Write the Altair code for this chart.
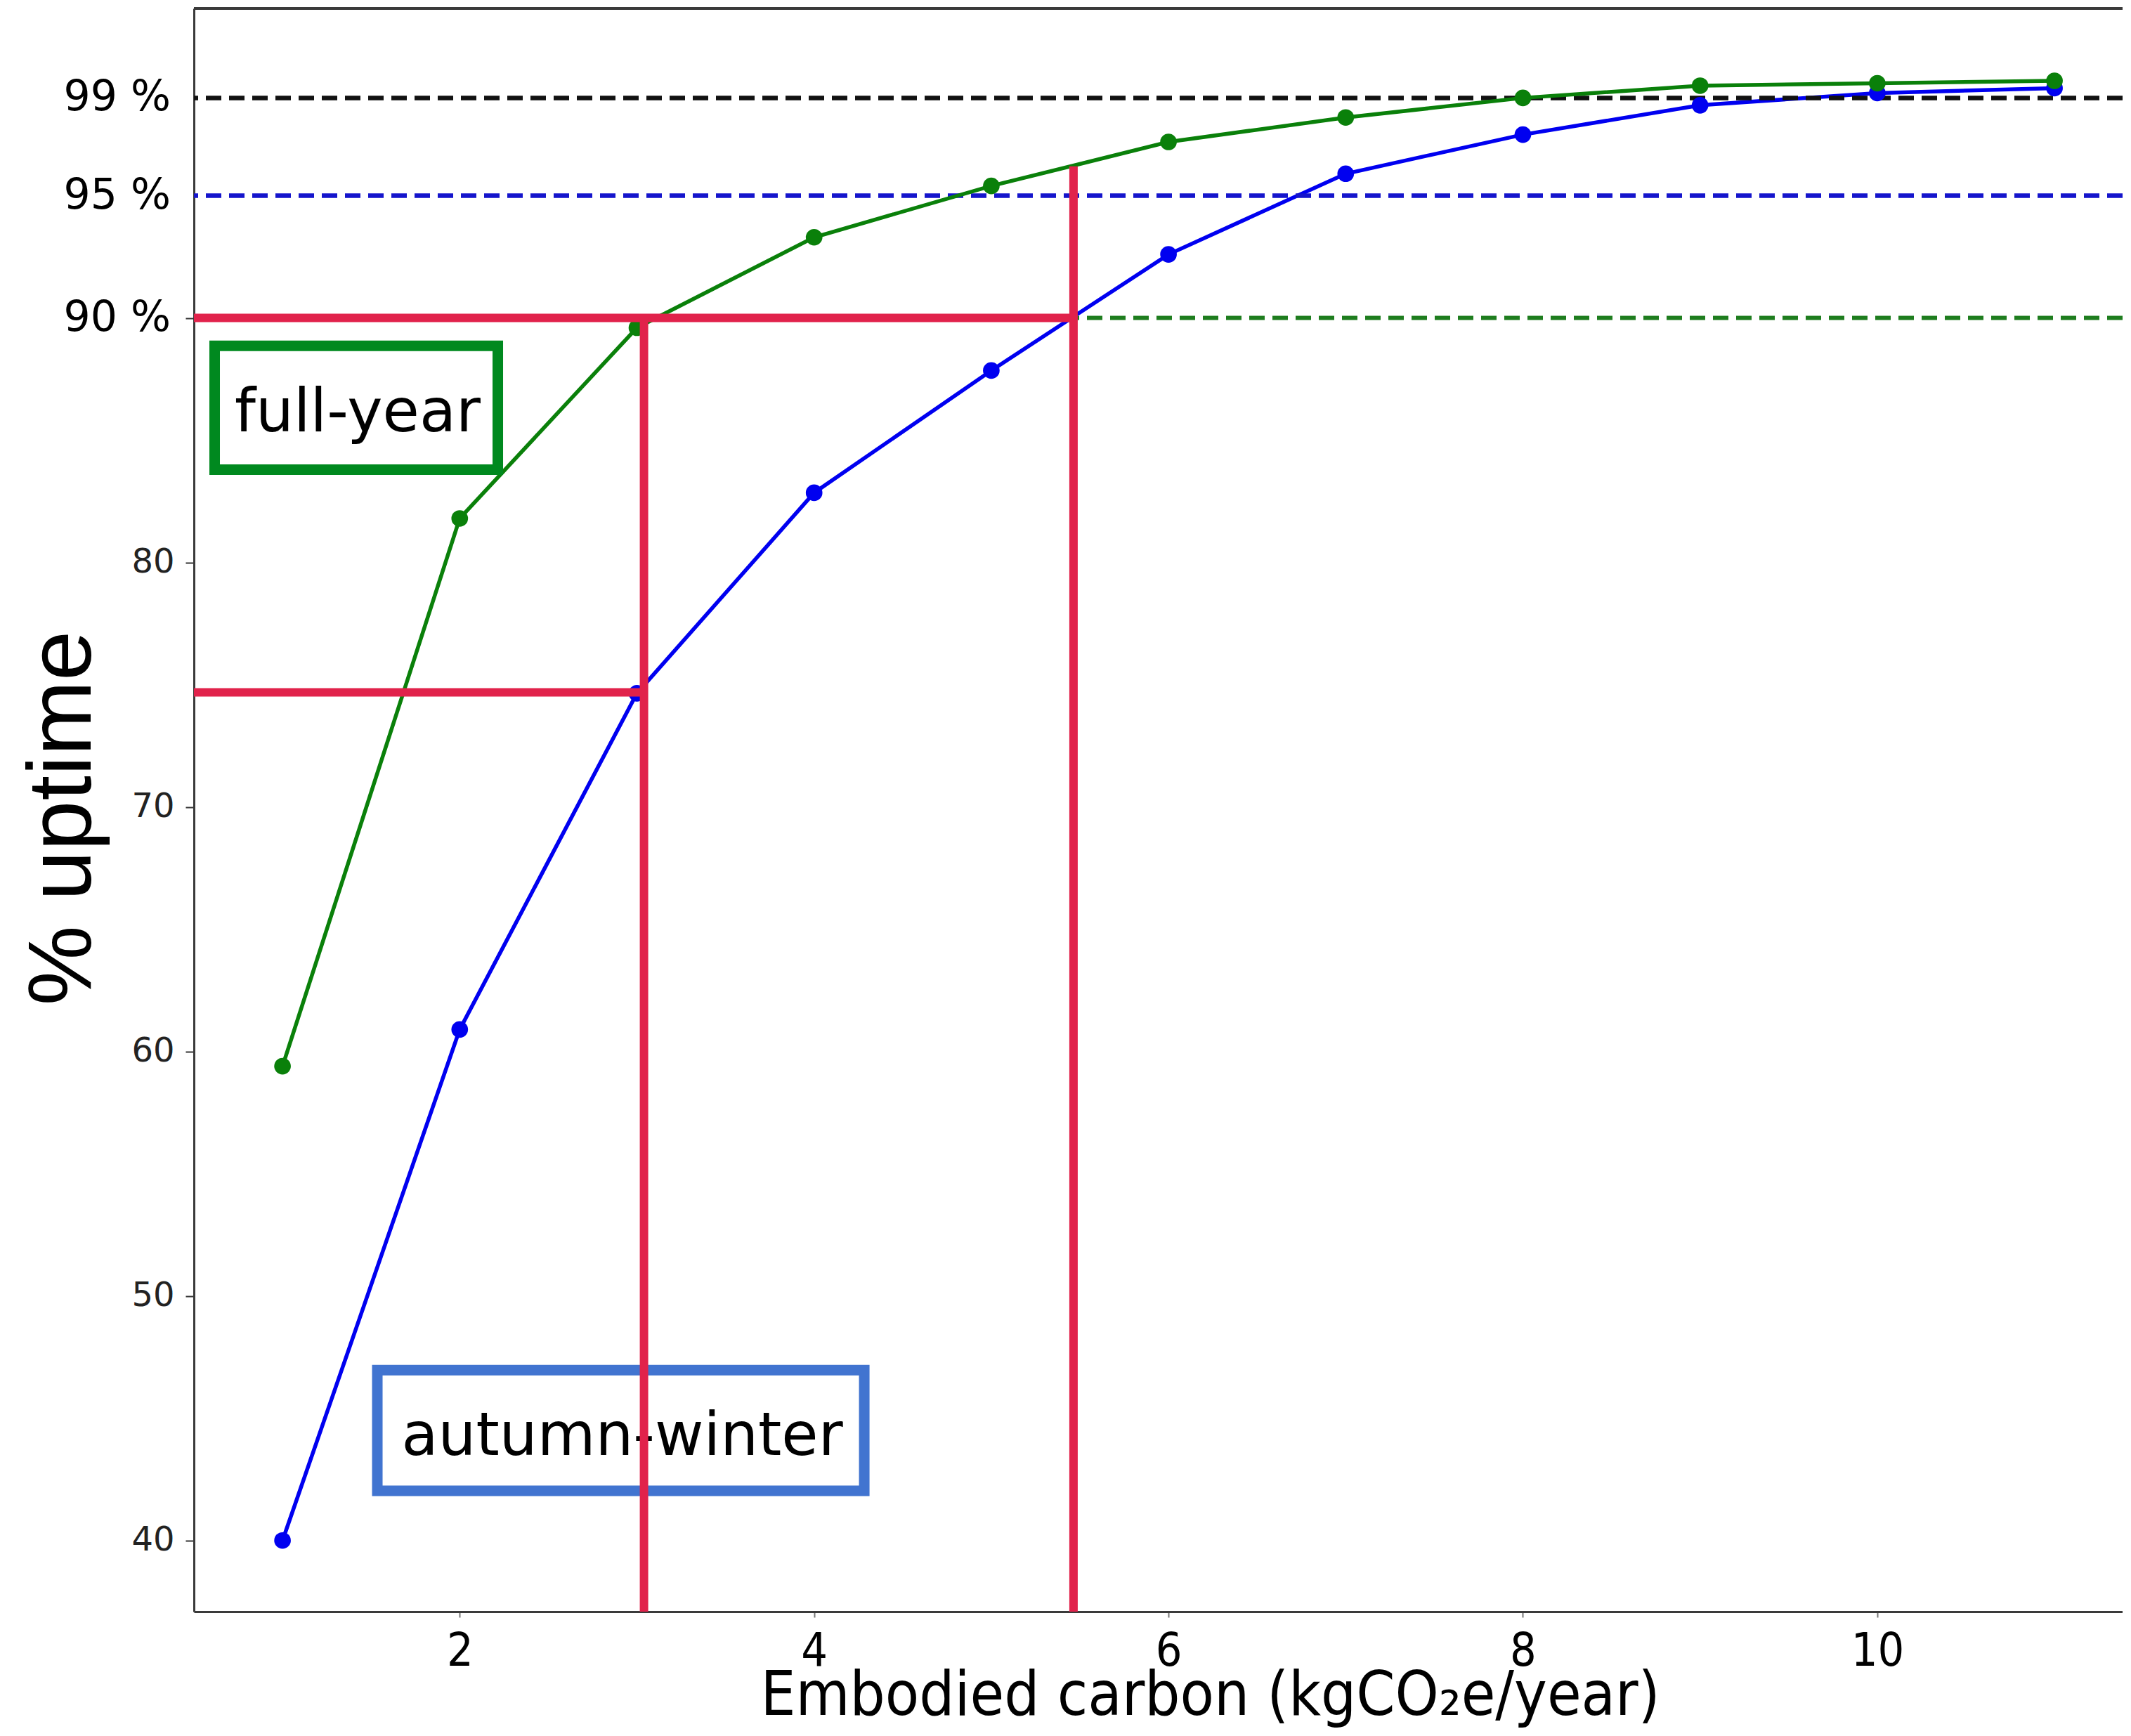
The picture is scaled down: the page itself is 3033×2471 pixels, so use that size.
import altair as alt
import pandas as pd

# ---- data ----
embodied_carbon = [1, 2, 3, 4, 5, 6, 7, 8, 9, 10, 11]
full_year = [59.4, 81.8, 89.6, 93.3, 95.4, 97.2, 98.2, 99.0, 99.5, 99.6, 99.7]
autumn_winter = [40.0, 60.9, 74.65, 82.85, 87.85, 92.6, 95.9, 97.5, 98.7, 99.2, 99.4]
series_names = ["full-year", "autumn-winter"]
x_ticks = [2, 4, 6, 8, 10]
y_ticks = [40, 50, 60, 70, 80, 90]
pct_levels = [99, 95, 90]
pct_labels = ["99 %", "95 %", "90 %"]

# annotation readings (data units)
full_year_x_at_90 = 3.04
autumn_x_at_90 = 5.464
autumn_y_at_3 = 74.69
red_top_at_autumn90 = 96.2

W, H = 2745, 2282
X_DOM = [0.5, 0.5 + W / 252.2]
Y_DOM = [37.09, 102.66]

COND = "DejaVu Sans Condensed, Liberation Sans Narrow, DejaVu Sans"
GREEN = "#0a800a"
BLUE = "#0000f0"
RED = "#e1224b"

xs = alt.Scale(domain=X_DOM, nice=False, zero=False)
ys = alt.Scale(domain=Y_DOM, nice=False, zero=False)

fy = pd.DataFrame({"x": embodied_carbon, "y": full_year})
aw = pd.DataFrame({"x": embodied_carbon, "y": autumn_winter})
pct = pd.DataFrame({"level": pct_levels, "label": pct_labels})
one = alt.Data(values=[{}])

x_axis = alt.Axis(
    values=x_ticks, format="d", title="Embodied carbon (kgCO₂e/year)",
    titleX=1446, titleY=146,
)
y_axis = alt.Axis(
    values=y_ticks, format="d", title="% uptime",
    labelExpr="datum.value >= 90 ? '' : datum.label",
    titleX=-148, titleY=1152,
)

def hline(value, color, width, dash):
    return alt.Chart(one).mark_rule(color=color, strokeWidth=width, strokeDash=dash).encode(
        y=alt.YDatum(value, type="quantitative", scale=ys)
    )

# blue series (carries the axes)
aw_line = alt.Chart(aw).mark_line(color=BLUE, strokeWidth=5.5).encode(
    x=alt.X("x:Q", scale=xs, axis=x_axis),
    y=alt.Y("y:Q", scale=ys, axis=y_axis),
)
aw_pts = alt.Chart(aw).mark_circle(color=BLUE, size=560, opacity=1).encode(
    x=alt.X("x:Q", scale=xs),
    y=alt.Y("y:Q", scale=ys),
)
fy_line = alt.Chart(fy).mark_line(color=GREEN, strokeWidth=5.5).encode(
    x=alt.X("x:Q", scale=xs),
    y=alt.Y("y:Q", scale=ys),
)
fy_pts = alt.Chart(fy).mark_circle(color=GREEN, size=560, opacity=1).encode(
    x=alt.X("x:Q", scale=xs),
    y=alt.Y("y:Q", scale=ys),
)

ref99 = hline(99, "#111111", 6.5, [22, 11])
ref95 = hline(95, "#1515cc", 6.5, [22, 11])
ref90 = hline(90, "#1e7d1e", 6, [22, 11])

pct_text = alt.Chart(pct).mark_text(
    font="DejaVu Sans", fontSize=60, align="right", baseline="middle", color="black"
).encode(
    x=alt.value(-33),
    y=alt.Y("level:Q", scale=ys),
    text="label:N",
)

top_border = alt.Chart(one).mark_rule(color="#3a3a3a", strokeWidth=4).encode(
    x=alt.value(0), x2=alt.value(W), y=alt.value(0)
)

def box(x1, x2, y1, y2, color):
    return alt.Chart(one).mark_rect(fill="white", stroke=color, strokeWidth=15).encode(
        x=alt.XDatum(x1, type="quantitative", scale=xs),
        x2=alt.X2Datum(x2),
        y=alt.YDatum(y1, type="quantitative", scale=ys),
        y2=alt.Y2Datum(y2),
    )

def label(xv, yv, txt):
    return alt.Chart(one).mark_text(
        font="DejaVu Sans", fontSize=85, align="center", baseline="alphabetic", color="black"
    ).encode(
        x=alt.XDatum(xv, type="quantitative", scale=xs),
        y=alt.YDatum(yv, type="quantitative", scale=ys),
        text=alt.value(txt),
    )

fy_box = box(0.617, 2.215, 88.86, 83.80, "#00891f")
fy_lab = label(1.424, 85.37, series_names[0])
aw_box = box(1.535, 4.283, 46.97, 42.03, "#4174d0")
aw_lab = label(2.917, 43.50, series_names[1])

def red_seg(x1, x2, y1, y2):
    return alt.Chart(one).mark_rule(color=RED, strokeWidth=12).encode(
        x=alt.XDatum(x1, type="quantitative", scale=xs),
        x2=alt.X2Datum(x2),
        y=alt.YDatum(y1, type="quantitative", scale=ys),
        y2=alt.Y2Datum(y2),
    )

red1 = red_seg(X_DOM[0], autumn_x_at_90, 90, 90)
red2 = red_seg(X_DOM[0], full_year_x_at_90, autumn_y_at_3, autumn_y_at_3)
red3 = red_seg(full_year_x_at_90, full_year_x_at_90, 90, Y_DOM[0])
red4 = red_seg(autumn_x_at_90, autumn_x_at_90, red_top_at_autumn90, Y_DOM[0])

chart = alt.layer(
    aw_line, ref99, ref95, ref90, fy_line, aw_pts, fy_pts,
    fy_box, fy_lab, aw_box, aw_lab,
    red1, red2, red3, red4, pct_text, top_border,
).properties(
    width=W, height=H,
    autosize=alt.AutoSizeParams(type="none"),
    padding={"left": 268, "top": 4, "right": 0, "bottom": 168},
    background="white",
).configure_view(
    stroke="transparent"
).configure_axisX(
    grid=False, domainColor="#3a3a3a", domainWidth=3, tickColor="#777", tickSize=8, tickWidth=2,
    labelFont=COND, labelFontSize=66, labelColor="black", labelPadding=16,
    labelFlush=False, labelOverlap=False,
    titleFont=COND, titleFontSize=88, titleFontWeight="normal", titleColor="black",
    titleBaseline="alphabetic", titleAlign="center",
).configure_axisY(
    grid=False, domainColor="#3a3a3a", domainWidth=3, tickColor="#333", tickSize=12, tickWidth=2,
    labelFont="DejaVu Sans", labelFontSize=48, labelColor="#222", labelPadding=16,
    titleFont="Liberation Sans", titleFontSize=128, titleFontWeight="normal", titleColor="black",
    titleAngle=270, titleAlign="center", titleBaseline="alphabetic",
)

chart.save("out.html", embed_options={"renderer": "svg", "actions": False})
